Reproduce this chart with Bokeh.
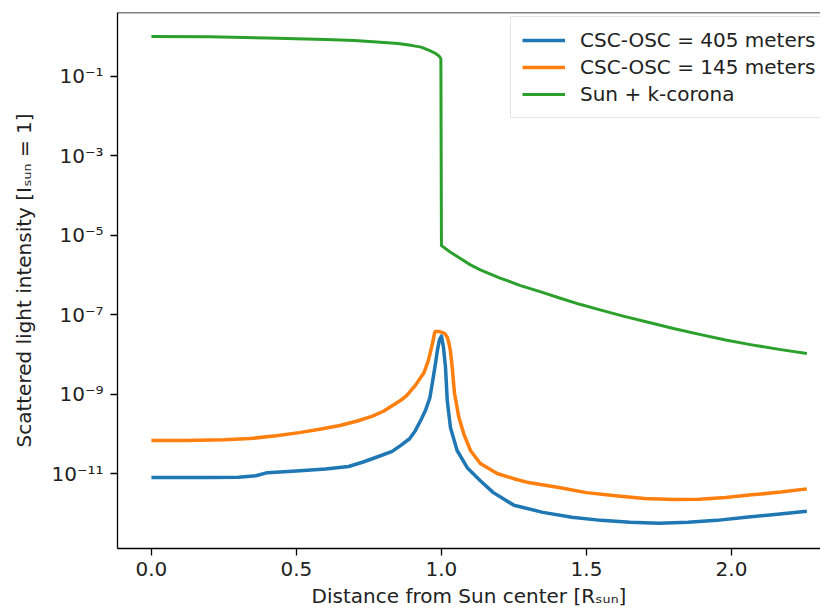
from bokeh.plotting import figure
from bokeh.models import Range1d, FixedTicker, CustomJSTickFormatter, Legend, LegendItem, Span
from bokeh.embed import file_html
from bokeh.resources import INLINE

# ---- data ----
x_405 = [0.0, 0.1, 0.2, 0.3, 0.36, 0.4, 0.5, 0.6, 0.68, 0.73, 0.79, 0.83, 0.86, 0.89, 0.91,
         0.93, 0.945, 0.96, 0.97, 0.98, 0.986, 0.993, 1.0, 1.007, 1.014, 1.02, 1.031, 1.054,
         1.089, 1.134, 1.179, 1.25, 1.35, 1.45, 1.55, 1.65, 1.75, 1.85, 1.95, 2.05, 2.15, 2.26]
i_405 = [7.9e-12, 7.9e-12, 7.9e-12, 8.1e-12, 8.8e-12, 1.05e-11, 1.15e-11, 1.3e-11, 1.5e-11,
         1.95e-11, 2.8e-11, 3.6e-11, 5.1e-11, 7.5e-11, 1.2e-10, 2.3e-10, 3.9e-10, 8.0e-10,
         2.2e-9, 6.3e-9, 1.26e-8, 2.3e-8, 2.9e-8, 1.5e-8, 4.7e-9, 6.9e-10, 1.45e-10, 3.8e-11,
         1.4e-11, 6.6e-12, 3.3e-12, 1.58e-12, 1.05e-12, 7.9e-13, 6.6e-13, 5.9e-13, 5.6e-13,
         5.9e-13, 6.6e-13, 7.9e-13, 9.3e-13, 1.12e-12]

x_145 = [0.0, 0.12, 0.25, 0.34, 0.43, 0.51, 0.58, 0.65, 0.71, 0.76, 0.80, 0.83, 0.86, 0.88,
         0.91, 0.94, 0.955, 0.969, 0.976, 0.979, 0.99, 1.002, 1.012, 1.02, 1.026, 1.031, 1.037,
         1.045, 1.06, 1.077, 1.1, 1.134, 1.192, 1.25, 1.3, 1.4, 1.5, 1.6, 1.7, 1.8, 1.89, 1.98,
         2.07, 2.17, 2.26]
i_145 = [6.8e-11, 6.8e-11, 7.1e-11, 7.6e-11, 8.9e-11, 1.07e-10, 1.3e-10, 1.62e-10, 2.1e-10,
         2.75e-10, 3.7e-10, 5.1e-10, 7.0e-10, 9.1e-10, 1.66e-9, 3.5e-9, 7.1e-9, 1.86e-8, 3.4e-8,
         3.8e-8, 3.8e-8, 3.6e-8, 3.3e-8, 2.7e-8, 1.9e-8, 1.2e-8, 4.8e-9, 1.05e-9, 2.6e-10,
         1.0e-10, 3.8e-11, 1.78e-11, 1.0e-11, 7.4e-12, 5.9e-12, 4.5e-12, 3.3e-12, 2.75e-12,
         2.35e-12, 2.2e-12, 2.25e-12, 2.5e-12, 2.9e-12, 3.4e-12, 4.1e-12]

x_sun = [0.0, 0.2, 0.4, 0.6, 0.7, 0.79, 0.85, 0.9, 0.93, 0.96, 0.98, 0.993, 0.998, 1.0, 1.03,
         1.06, 1.1, 1.134, 1.2, 1.27, 1.34, 1.41, 1.48, 1.55, 1.63, 1.72, 1.8, 1.89, 1.98, 2.07,
         2.17, 2.26]
i_sun = [1.02, 1.01, 0.93, 0.85, 0.81, 0.73, 0.68, 0.60, 0.55, 0.45, 0.38, 0.32, 0.28, 5.5e-6,
         3.8e-6, 2.75e-6, 1.8e-6, 1.35e-6, 8.5e-7, 5.5e-7, 3.8e-7, 2.6e-7, 1.8e-7, 1.3e-7,
         9.1e-8, 6.3e-8, 4.5e-8, 3.2e-8, 2.3e-8, 1.74e-8, 1.32e-8, 1.05e-8]

series_labels = ["CSC-OSC = 405 meters", "CSC-OSC = 145 meters", "Sun + k-corona"]
series_colors = ["#1f77b4", "#ff7f0e", "#2ca02c"]

x_ticks = [0.0, 0.5, 1.0, 1.5, 2.0]
x_tick_labels = ["0.0", "0.5", "1.0", "1.5", "2.0"]
y_ticks = [1e-1, 1e-3, 1e-5, 1e-7, 1e-9, 1e-11]
y_tick_labels = ["10\u207b\u00b9", "10\u207b\u00b3", "10\u207b\u2075", "10\u207b\u2077",
                 "10\u207b\u2079", "10\u207b\u00b9\u00b9"]

x_title = "Distance from Sun center [R\u209b\u1d64\u2099]"
y_title = "Scattered light intensity [I\u209b\u1d64\u2099 = 1]"

FONT = "DejaVu Sans"
FS = "20px"

p = figure(width=820, height=613, y_axis_type="log",
           x_range=Range1d(-0.117, 2.307),
           y_range=Range1d(10 ** -12.889, 10 ** 0.612),
           output_backend="svg", toolbar_location=None,
           min_border_left=117, min_border_right=0, min_border_top=12, min_border_bottom=65)

p.outline_line_color = None
p.xgrid.visible = False
p.ygrid.visible = False
p.background_fill_color = "white"
p.border_fill_color = "white"

r1 = p.line(x_405, i_405, line_color=series_colors[0], line_width=3.5, line_join="round")
r2 = p.line(x_145, i_145, line_color=series_colors[1], line_width=3.5, line_join="round")
r3 = p.line(x_sun, i_sun, line_color=series_colors[2], line_width=3, line_join="round")

# top spine
p.add_layout(Span(location=10 ** 0.612, dimension="width", line_color="black", line_width=1.3))

# axes styling
for ax in (p.xaxis[0], p.yaxis[0]):
    ax.axis_line_color = "black"
    ax.axis_line_width = 1.3
    ax.major_tick_line_color = "black"
    ax.major_tick_line_width = 1.3
    ax.major_tick_out = 7
    ax.major_tick_in = 0
    ax.minor_tick_line_color = None
    ax.major_label_text_font = FONT
    ax.major_label_text_font_size = FS
    ax.major_label_text_color = "#222222"
    ax.axis_label_text_font = FONT
    ax.axis_label_text_font_size = FS
    ax.axis_label_text_font_style = "normal"
    ax.axis_label_text_color = "#222222"

p.xaxis.ticker = FixedTicker(ticks=x_ticks)
p.xaxis.formatter = CustomJSTickFormatter(args=dict(tks=x_ticks, lbls=x_tick_labels), code="""
let best = 0, bd = Infinity;
for (let i = 0; i < tks.length; i++) {
  const d = Math.abs(tks[i] - tick);
  if (d < bd) { bd = d; best = i; }
}
return lbls[best];
""")
p.xaxis.major_label_standoff = 6
p.xaxis.axis_label = x_title
p.xaxis.axis_label_standoff = 5

p.yaxis.ticker = FixedTicker(ticks=y_ticks)
p.yaxis.formatter = CustomJSTickFormatter(args=dict(tks=y_ticks, lbls=y_tick_labels), code="""
let best = 0, bd = Infinity;
for (let i = 0; i < tks.length; i++) {
  const d = Math.abs(Math.log10(tks[i]) - Math.log10(tick));
  if (d < bd) { bd = d; best = i; }
}
return lbls[best];
""")
p.yaxis.major_label_standoff = 7
p.yaxis.axis_label = y_title
p.yaxis.axis_label_standoff = 12

legend = Legend(items=[LegendItem(label=series_labels[0], renderers=[r1]),
                       LegendItem(label=series_labels[1], renderers=[r2]),
                       LegendItem(label=series_labels[2], renderers=[r3])],
                location=(393, 430))
legend.label_text_font = FONT
legend.label_text_font_size = FS
legend.label_text_color = "#222222"
legend.glyph_width = 43
legend.glyph_height = 24
legend.label_height = 24
legend.label_standoff = 15
legend.spacing = 3
legend.padding = 11
legend.margin = 0
legend.border_line_color = "#cccccc"
legend.border_line_width = 1
legend.background_fill_color = "white"
legend.background_fill_alpha = 0.85
p.add_layout(legend)

open("out.html", "w").write(file_html(p, INLINE))
